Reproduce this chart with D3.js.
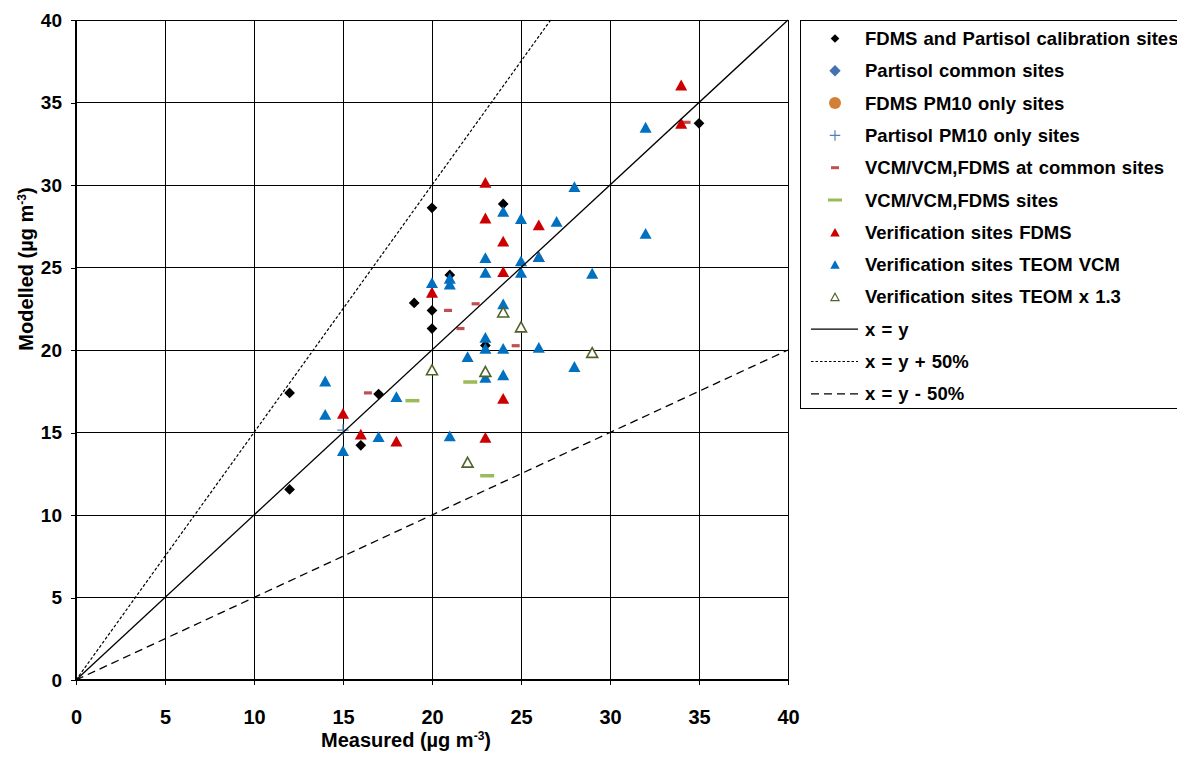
<!DOCTYPE html>
<html>
<head>
<meta charset="utf-8">
<script src="https://cdn.jsdelivr.net/npm/d3@7"></script>
<style>
  html, body { margin: 0; padding: 0; background: #fff; }
  svg { display: block; font-family: "Liberation Sans", Arial, sans-serif; }
</style>
</head>
<body>
<svg id="chart" width="1177" height="758"></svg>
<script>
// ---------------- DATA ----------------
const tickValues = [0, 5, 10, 15, 20, 25, 30, 35, 40];

const calibrationSites = [[12,17.4],[12,11.55],[16,14.22],[17,17.33],[19,22.85],[20,28.62],[20,22.4],[20,21.3],[21,24.55],[23,20.28],[24,28.85],[35,33.74]];
const partisolCommon = [];
const fdmsPm10Only = [];
const partisolPm10Only = [[15,15.15]];
const vcmCommon = [[16.4,17.4],[20.9,22.4],[21.6,21.3],[22.45,22.8],[24.7,20.26],[34.3,33.8]];
const vcmSites = [[18.9,16.93],[22.15,18.06],[23.1,12.38]];
const verifFDMS = [[15,16.16],[16,14.9],[18,14.48],[20,23.5],[23,30.16],[23,28.0],[23,14.7],[24,26.6],[24,24.75],[24,17.07],[26,27.58],[26,25.66],[34,36.06],[34,33.74]];
const verifTEOMVCM = [[14,18.12],[14,16.1],[15,13.9],[17,14.75],[18,17.17],[20,24.08],[21,24.35],[21,24.0],[21,14.8],[22,19.6],[23,25.6],[23,24.7],[23,20.77],[23,20.1],[23,18.35],[24,28.4],[24,22.8],[24,20.1],[24,18.5],[25,27.97],[25,25.4],[25,24.7],[26,25.66],[26,20.16],[27,27.8],[28,29.9],[28,19.0],[29,24.65],[32,33.5],[32,27.07]];
const verifTEOM13 = [[20,18.8],[22,13.2],[23,18.7],[24,22.3],[25,21.4],[29,19.85]];

const lineXeqY = [[0,0],[40,40]];
const linePlus50 = [[0,0],[40/1.5,40]];
const lineMinus50 = [[0,0],[40,20]];

const legendLabels = [
  "FDMS and Partisol calibration sites",
  "Partisol common sites",
  "FDMS PM10 only sites",
  "Partisol PM10 only sites",
  "VCM/VCM,FDMS at common sites",
  "VCM/VCM,FDMS sites",
  "Verification sites FDMS",
  "Verification sites TEOM VCM",
  "Verification sites TEOM x 1.3",
  "x = y",
  "x = y + 50%",
  "x = y - 50%"
];

// ---------------- CHART ----------------
const svg = d3.select("#chart");
const x = d3.scaleLinear().domain([0, 40]).range([76, 788]);
const y = d3.scaleLinear().domain([0, 40]).range([680, 20]);

// gridlines
const grid = svg.append("g").attr("shape-rendering", "crispEdges");
grid.selectAll("line.v").data(tickValues.slice(1)).join("line")
  .attr("x1", d => x(d)).attr("x2", d => x(d))
  .attr("y1", y(0)).attr("y2", y(40))
  .attr("stroke", "#000").attr("stroke-width", 1);
grid.selectAll("line.h").data(tickValues.slice(1)).join("line")
  .attr("x1", x(0)).attr("x2", x(40))
  .attr("y1", d => y(d)).attr("y2", d => y(d))
  .attr("stroke", "#000").attr("stroke-width", 1);

// axes
const xAxis = d3.axisBottom(x).tickValues(tickValues).tickSize(5).tickPadding(25);
const yAxis = d3.axisLeft(y).tickValues(tickValues).tickSize(5).tickPadding(9);
const gx = svg.append("g").attr("transform", `translate(0,${y(0)})`).call(xAxis);
const gy = svg.append("g").attr("transform", `translate(${x(0)},0)`).call(yAxis);
[gx, gy].forEach(g => {
  g.select(".domain").remove();
  g.selectAll(".tick line").attr("stroke", "#000").attr("shape-rendering", "crispEdges");
  g.selectAll(".tick text").attr("fill", "#000")
    .style("font-family", '"Liberation Sans", Arial, sans-serif')
    .style("font-weight", "bold").style("font-size", "19px");
});
gx.selectAll(".tick text").style("font-size", "20px");
// axis lines (thicker)
svg.append("line").attr("x1", x(0)).attr("x2", x(40)).attr("y1", y(0)).attr("y2", y(0))
  .attr("stroke", "#000").attr("stroke-width", 2);
svg.append("line").attr("x1", x(0)).attr("x2", x(0)).attr("y1", y(0)).attr("y2", y(40))
  .attr("stroke", "#000").attr("stroke-width", 2);

// axis titles
const xt = svg.append("text").attr("x", 406).attr("y", 747).attr("text-anchor", "middle")
  .style("font-weight", "bold").style("font-size", "20px");
xt.append("tspan").text("Measured (µg m");
xt.append("tspan").attr("baseline-shift", "super").style("font-size", "12px").text("-3");
xt.append("tspan").text(")");

const yt = svg.append("text").attr("transform", "translate(33,269) rotate(-90)")
  .attr("text-anchor", "middle")
  .style("font-weight", "bold").style("font-size", "20px");
yt.append("tspan").text("Modelled (µg m");
yt.append("tspan").attr("baseline-shift", "super").style("font-size", "12px").text("-3");
yt.append("tspan").text(")");

// symbols
const diamondType = {
  draw(ctx, size) {
    const r = Math.sqrt(size) / 2;
    ctx.moveTo(0, -r); ctx.lineTo(r, 0); ctx.lineTo(0, r); ctx.lineTo(-r, 0); ctx.closePath();
  }
};
const triType = {
  draw(ctx, size) {
    const w = Math.sqrt(size);
    const h = w * 0.9;
    ctx.moveTo(0, -h / 2); ctx.lineTo(w / 2, h / 2); ctx.lineTo(-w / 2, h / 2); ctx.closePath();
  }
};
const plusType = {
  draw(ctx, size) {
    const r = Math.sqrt(size) / 2;
    ctx.moveTo(-r, 0); ctx.lineTo(r, 0); ctx.moveTo(0, -r); ctx.lineTo(0, r);
  }
};

const pts = svg.append("g");
function drawSym(data, type, size, fill, stroke, sw) {
  pts.append("g").selectAll("path").data(data).join("path")
    .attr("transform", d => `translate(${x(d[0])},${y(d[1])})`)
    .attr("d", d3.symbol().type(type).size(size))
    .attr("fill", fill).attr("stroke", stroke || "none").attr("stroke-width", sw || 0);
}
function drawDash(data, w, h, color) {
  pts.append("g").selectAll("rect").data(data).join("rect")
    .attr("x", d => x(d[0]) - w / 2).attr("y", d => y(d[1]) - h / 2)
    .attr("width", w).attr("height", h).attr("fill", color);
}

drawSym(calibrationSites, diamondType, 115, "#000");
drawSym(partisolCommon, diamondType, 130, "#4472AE");
pts.append("g").selectAll("circle").data(fdmsPm10Only).join("circle")
  .attr("cx", d => x(d[0])).attr("cy", d => y(d[1])).attr("r", 5.5).attr("fill", "#D47F36");
drawSym(partisolPm10Only, plusType, 130, "none", "#4F81BD", 1.2);
drawDash(vcmCommon, 8, 3.2, "#C0504D");
drawDash(vcmSites, 14, 3.5, "#9BBB59");
drawSym(verifFDMS, triType, 145, "#CC0000");
drawSym(verifTEOMVCM, triType, 145, "#0070C0");
drawSym(verifTEOM13, triType, 120, "#fff", "#4F6228", 1.6);

// reference lines
const lineGen = d3.line().x(d => x(d[0])).y(d => y(d[1]));
svg.append("path").attr("d", lineGen(lineXeqY)).attr("fill", "none").attr("stroke", "#000").attr("stroke-width", 1.3);
svg.append("path").attr("d", lineGen(linePlus50)).attr("fill", "none").attr("stroke", "#000").attr("stroke-width", 1.2).attr("stroke-dasharray", "3,2");
svg.append("path").attr("d", lineGen(lineMinus50)).attr("fill", "none").attr("stroke", "#000").attr("stroke-width", 1.3).attr("stroke-dasharray", "8,5");

// ---------------- LEGEND ----------------
const lg = svg.append("g");
lg.append("rect").attr("x", 800.5).attr("y", 20.5).attr("width", 400).attr("height", 388)
  .attr("fill", "#fff").attr("stroke", "#000").attr("stroke-width", 1);
const rowY = i => 38.5 + i * 32.3;
const mx = 835;
legendLabels.forEach((lab, i) => {
  lg.append("text").attr("x", 865).attr("y", rowY(i) + 6.5)
    .style("font-weight", "bold").style("font-size", "18.5px").style("word-spacing", "1px")
    .text(lab);
});
const sym = (i, type, size, fill, stroke, sw) => lg.append("path")
  .attr("transform", `translate(${mx},${rowY(i)})`)
  .attr("d", d3.symbol().type(type).size(size))
  .attr("fill", fill).attr("stroke", stroke || "none").attr("stroke-width", sw || 0);
sym(0, diamondType, 75, "#000");
sym(1, diamondType, 130, "#4472AE");
lg.append("circle").attr("cx", mx).attr("cy", rowY(2)).attr("r", 6).attr("fill", "#D47F36");
sym(3, plusType, 110, "none", "#4F81BD", 1.2);
lg.append("rect").attr("x", mx - 4).attr("y", rowY(4) - 1.5).attr("width", 8).attr("height", 3).attr("fill", "#C0504D");
lg.append("rect").attr("x", mx - 7).attr("y", rowY(5) - 1.5).attr("width", 14).attr("height", 3).attr("fill", "#9BBB59");
sym(6, triType, 90, "#CC0000");
sym(7, triType, 90, "#0070C0");
sym(8, triType, 65, "#fff", "#4F6228", 1.2);
const lineSample = (i, dash, sw) => lg.append("line")
  .attr("x1", 811).attr("x2", 858).attr("y1", rowY(i)).attr("y2", rowY(i))
  .attr("stroke", "#000").attr("stroke-width", sw).attr("stroke-dasharray", dash);
lineSample(9, null, 1.3);
lineSample(10, "2.5,2", 1);
lineSample(11, "8,5", 1.2);
</script>
</body>
</html>
